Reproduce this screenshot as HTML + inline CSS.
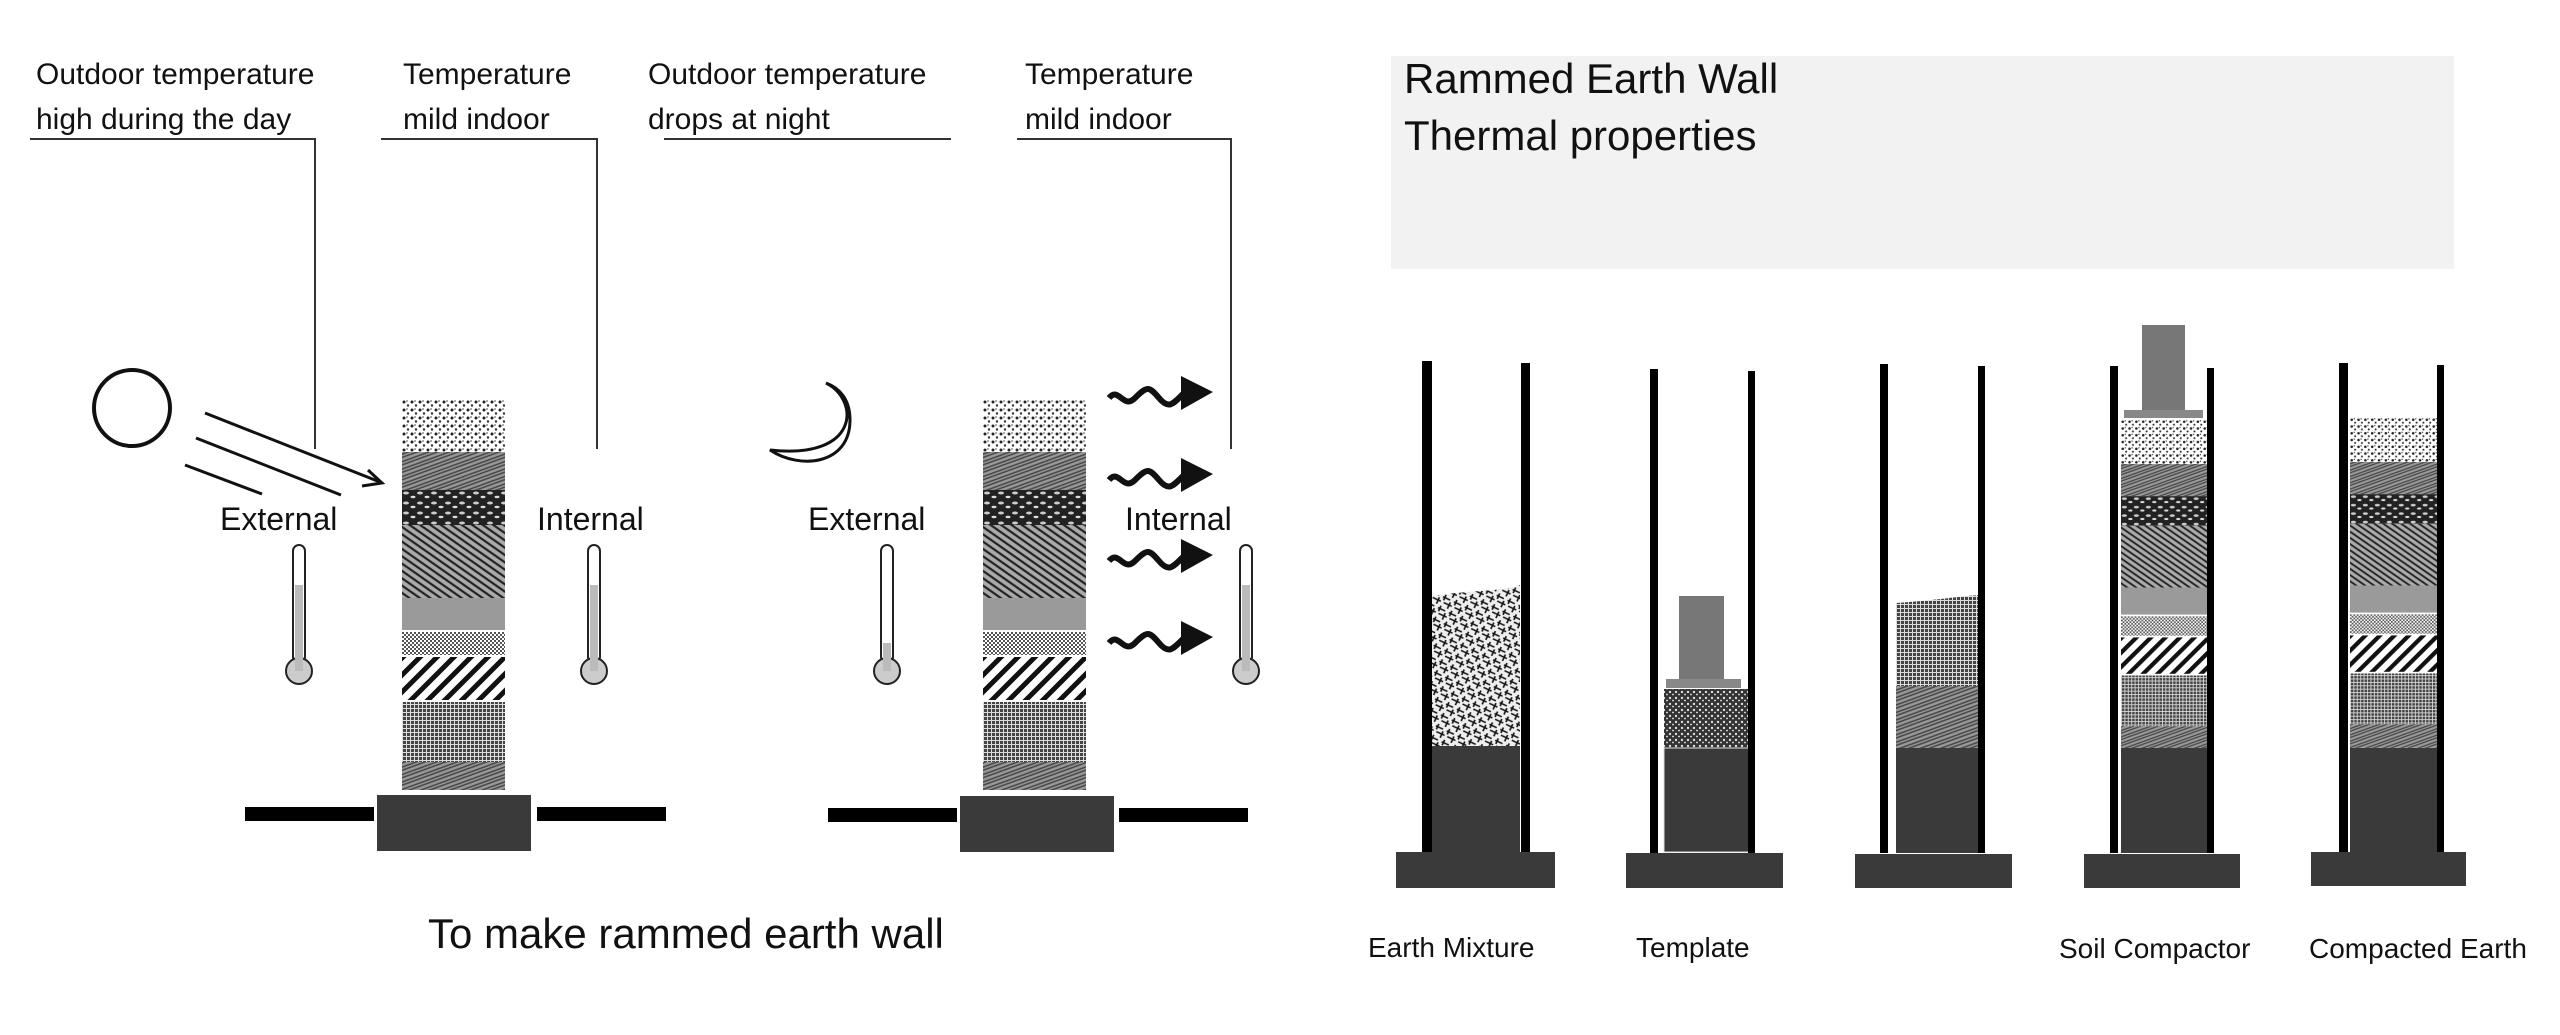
<!DOCTYPE html>
<html><head><meta charset="utf-8"><style>
html,body{margin:0;padding:0;background:#fff}
svg{display:block}
text{font-family:"Liberation Sans",sans-serif;fill:#111}
</style></head><body>
<svg width="2560" height="1035" viewBox="0 0 2560 1035" xmlns="http://www.w3.org/2000/svg">
<defs>
<pattern id="dots" width="8" height="8" patternUnits="userSpaceOnUse"><rect width="8" height="8" fill="#fff"/><circle cx="2" cy="2" r="1.5" fill="#222"/><circle cx="6" cy="5.5" r="1.2" fill="#333"/><circle cx="5" cy="1" r="0.8" fill="#444"/></pattern>
<pattern id="sketch" width="7" height="7" patternUnits="userSpaceOnUse" patternTransform="rotate(-20)"><rect width="7" height="7" fill="#999"/><path d="M0 2H7M0 5H7" stroke="#444" stroke-width="1.4"/></pattern>
<pattern id="rocky" width="14" height="10" patternUnits="userSpaceOnUse"><rect width="14" height="10" fill="#222"/><ellipse cx="4" cy="3" rx="3" ry="1.5" fill="#ccc"/><ellipse cx="11" cy="7" rx="2.5" ry="1.2" fill="#ddd"/></pattern>
<pattern id="streak" width="6" height="6" patternUnits="userSpaceOnUse" patternTransform="rotate(35)"><rect width="6" height="6" fill="#aaa"/><path d="M0 2H6" stroke="#222" stroke-width="2.2"/></pattern>
<pattern id="fine" width="4" height="4" patternUnits="userSpaceOnUse"><rect width="4" height="4" fill="#fff"/><rect width="2" height="2" fill="#555"/><rect x="2" y="2" width="2" height="2" fill="#555"/></pattern>
<pattern id="hatch" width="12" height="12" patternUnits="userSpaceOnUse" patternTransform="rotate(-45)"><rect width="12" height="12" fill="#fff"/><rect width="12" height="5" fill="#111"/></pattern>
<pattern id="grid" width="4" height="4" patternUnits="userSpaceOnUse"><rect width="4" height="4" fill="#444"/><path d="M0 .5H4M.5 0V4" stroke="#ddd" stroke-width="1"/></pattern>
<pattern id="mix" width="12" height="12" patternUnits="userSpaceOnUse" patternTransform="rotate(25)"><rect width="12" height="12" fill="#eee"/><path d="M0 3H8M3 8H12M2 0V6M9 5V12" stroke="#111" stroke-width="1.6"/></pattern>
<pattern id="dense" width="6" height="6" patternUnits="userSpaceOnUse"><rect width="6" height="6" fill="#333"/><circle cx="2" cy="2" r="1.2" fill="#ddd"/><circle cx="5" cy="4.5" r="0.9" fill="#eee"/></pattern>
<g id="wall">
<rect x="0" y="0" width="103" height="52" fill="url(#dots)"/>
<rect x="0" y="52" width="103" height="38" fill="url(#sketch)"/>
<rect x="0" y="90" width="103" height="35" fill="url(#rocky)"/>
<rect x="0" y="125" width="103" height="73" fill="url(#streak)"/>
<rect x="0" y="198" width="103" height="32" fill="#9a9a9a"/>
<rect x="0" y="232" width="103" height="23" fill="url(#fine)"/>
<rect x="0" y="257" width="103" height="43" fill="url(#hatch)"/>
<rect x="0" y="302" width="103" height="60" fill="url(#grid)"/>
<rect x="0" y="362" width="103" height="28" fill="url(#sketch)"/>
</g>
<g id="thermo">
<rect x="-6" y="0" width="12" height="118" rx="6" fill="#fff" stroke="#222" stroke-width="2"/>
<circle cx="0" cy="126" r="13" fill="#ccc" stroke="#222" stroke-width="2"/>
<rect x="-4" y="40" width="8" height="86" fill="#bbb"/>
</g>
<g id="thermoLow">
<rect x="-6" y="0" width="12" height="118" rx="6" fill="#fff" stroke="#222" stroke-width="2"/>
<circle cx="0" cy="126" r="13" fill="#ccc" stroke="#222" stroke-width="2"/>
<rect x="-4" y="98" width="8" height="28" fill="#bbb"/>
</g>
<g id="wave">
<path d="M0 10 C10 -2 14 22 26 10 S40 -2 50 10 S64 16 76 4" fill="none" stroke="#111" stroke-width="6"/>
<path d="M72 -12 L104 4 L72 22 Z" fill="#111"/>
</g>
</defs>

<text x="36" y="84" font-size="30">Outdoor temperature</text>
<text x="36" y="129" font-size="30">high during the day</text>
<text x="403" y="84" font-size="30">Temperature</text>
<text x="403" y="129" font-size="30">mild indoor</text>
<text x="648" y="84" font-size="30">Outdoor temperature</text>
<text x="648" y="129" font-size="30">drops at night</text>
<text x="1025" y="84" font-size="30">Temperature</text>
<text x="1025" y="129" font-size="30">mild indoor</text>
<g stroke="#333" stroke-width="2" fill="none">
<path d="M30 139H315V449"/>
<path d="M381 139H597V449"/>
<path d="M664 139H951"/>
<path d="M1017 139H1231V449"/>
</g>

<circle cx="132" cy="408" r="38" fill="none" stroke="#111" stroke-width="4"/>
<g stroke="#111" stroke-width="3" fill="none">
<path d="M205 413L380 482"/><path d="M368 470L382 483L362 486"/>
<path d="M196 438L341 495"/>
<path d="M185 465L262 494"/>
</g>
<path d="M826 383 C860 400 860 460 770 450 C800 470 850 465 850 420 C850 400 840 388 826 383Z" fill="#fff" stroke="#111" stroke-width="3"/>

<use href="#wall" x="402" y="400"/>
<use href="#wall" x="983" y="400"/>
<rect x="377" y="795" width="154" height="56" fill="#3a3a3a"/>
<rect x="245" y="807" width="129" height="14" fill="#000"/>
<rect x="537" y="807" width="129" height="14" fill="#000"/>
<rect x="960" y="796" width="154" height="56" fill="#3a3a3a"/>
<rect x="828" y="808" width="129" height="14" fill="#000"/>
<rect x="1119" y="808" width="129" height="14" fill="#000"/>

<text x="220" y="530" font-size="32">External</text>
<text x="537" y="530" font-size="32">Internal</text>
<text x="808" y="530" font-size="32">External</text>
<text x="1125" y="530" font-size="32">Internal</text>
<use href="#thermo" x="299" y="545"/>
<use href="#thermo" x="594" y="545"/>
<use href="#thermoLow" x="887" y="545"/>
<use href="#thermo" x="1246" y="545"/>
<use href="#wave" x="1109" y="388"/>
<use href="#wave" x="1109" y="470"/>
<use href="#wave" x="1109" y="551"/>
<use href="#wave" x="1109" y="633"/>

<text x="428" y="948" font-size="42">To make rammed earth wall</text>

<rect x="1391" y="56" width="1063" height="213" fill="#f2f2f2"/>
<text x="1404" y="93" font-size="42">Rammed Earth Wall</text>
<text x="1404" y="150" font-size="42">Thermal properties</text>

<path d="M1432 596 C1470 590 1500 592 1520 585 V746 H1432Z" fill="url(#mix)"/>
<rect x="1432" y="746" width="88" height="106" fill="#3a3a3a"/>
<rect x="1422" y="361" width="10" height="491" fill="#000"/>
<rect x="1521" y="363" width="9" height="489" fill="#000"/>
<rect x="1396" y="852" width="159" height="36" fill="#3a3a3a"/>
<rect x="1664" y="689" width="87" height="59" fill="url(#dense)"/>
<rect x="1664" y="748" width="87" height="104" fill="#3a3a3a" stroke="#ddd" stroke-width="1"/>
<rect x="1679" y="596" width="45" height="83" fill="#777"/>
<rect x="1666" y="679" width="75" height="9" fill="#888"/>
<rect x="1650" y="369" width="8" height="484" fill="#000"/>
<rect x="1748" y="371" width="7" height="482" fill="#000"/>
<rect x="1626" y="853" width="157" height="35" fill="#3a3a3a"/>
<path d="M1896 603 C1940 600 1960 596 1981 595 V686 H1896Z" fill="url(#grid)"/>
<rect x="1896" y="686" width="85" height="62" fill="url(#sketch)"/>
<rect x="1896" y="748" width="85" height="105" fill="#3a3a3a"/>
<rect x="1880" y="364" width="8" height="489" fill="#000"/>
<rect x="1978" y="366" width="7" height="487" fill="#000"/>
<rect x="1855" y="854" width="157" height="34" fill="#3a3a3a"/>
<g transform="translate(2121 420) scale(0.854 0.846)"><use href="#wall"/></g>
<rect x="2121" y="748" width="88" height="105" fill="#3a3a3a"/>
<rect x="2142" y="325" width="43" height="85" fill="#777"/>
<rect x="2124" y="410" width="79" height="8" fill="#888"/>
<rect x="2110" y="366" width="8" height="487" fill="#000"/>
<rect x="2207" y="368" width="7" height="485" fill="#000"/>
<rect x="2084" y="854" width="156" height="34" fill="#3a3a3a"/>
<g transform="translate(2350 418) scale(0.854 0.846)"><use href="#wall"/></g>
<rect x="2350" y="748" width="88" height="104" fill="#3a3a3a"/>
<rect x="2339" y="363" width="9" height="489" fill="#000"/>
<rect x="2437" y="365" width="7" height="487" fill="#000"/>
<rect x="2311" y="852" width="155" height="34" fill="#3a3a3a"/>

<text x="1368" y="957" font-size="28">Earth Mixture</text>
<text x="1636" y="957" font-size="28">Template</text>
<text x="2059" y="958" font-size="28">Soil Compactor</text>
<text x="2309" y="958" font-size="28">Compacted Earth</text>
</svg>
</body></html>
